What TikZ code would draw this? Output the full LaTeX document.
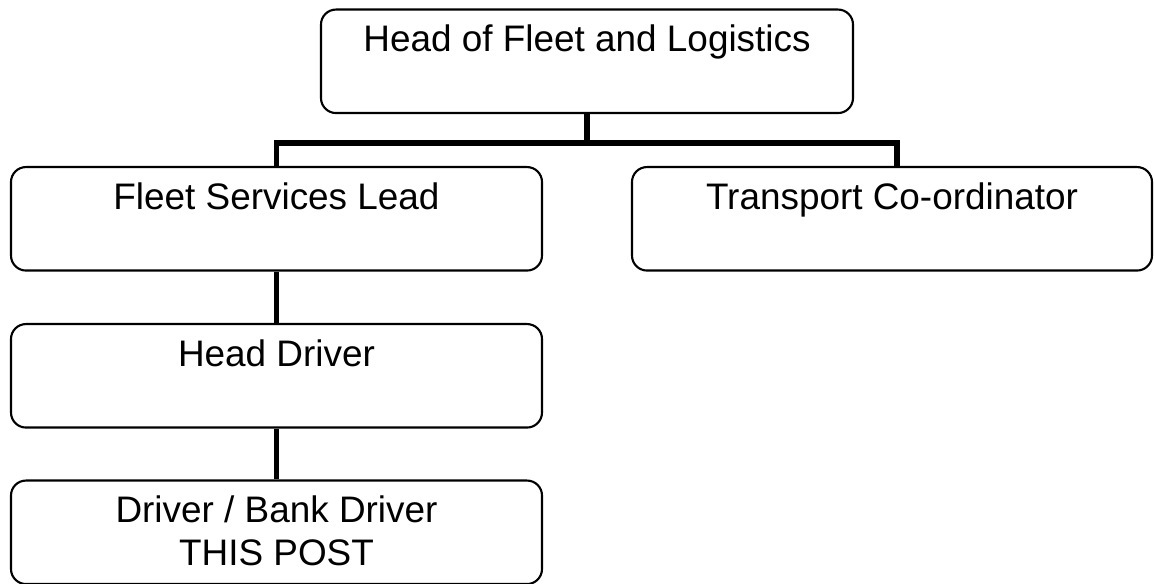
\documentclass[tikz,border=0pt]{standalone}
\usepackage{fontspec}
\setmainfont{Liberation Sans}
\usepackage{tikz}

\tikzset{
  post/.style={draw, rounded corners=0.15cm, line width=0.6pt, inner sep=0pt,
    minimum width=5.31cm, align=center, anchor=north,
    text height=0.42cm, text depth=0.615cm,
    font=\fontsize{10.5}{12}\selectfont},
  link/.style={line width=1.65pt}
}

\begin{document}
\begin{tikzpicture}
\useasboundingbox (0,0) rectangle (11.54,-5.84);
% Chefia
\node[post, minimum width=5.32cm] (boss) at (5.87,-0.085) {Head of Fleet and Logistics};
% Segundo nivel
\node[post] (fleet) at (2.765,-1.66) {Fleet Services Lead};
\node[post, minimum width=5.20cm] (transp) at (8.92,-1.66) {Transport Co-ordinator};
% Motoristas
\node[post] (headdrv) at (2.765,-3.23) {Head Driver};
\node[post, text height=0.845cm, text depth=0.19cm] (driver) at (2.765,-4.795) {Driver / Bank Driver\\THIS POST};
\draw[link] (boss.south) -- ++(0,-0.29) -| (fleet.north);
\draw[link] (boss.south) -- ++(0,-0.29) -| ([xshift=0.05cm]transp.north);
\draw[link] (fleet.south) -- (headdrv.north);
\draw[link] (headdrv.south) -- (driver.north);
\end{tikzpicture}
\end{document}
